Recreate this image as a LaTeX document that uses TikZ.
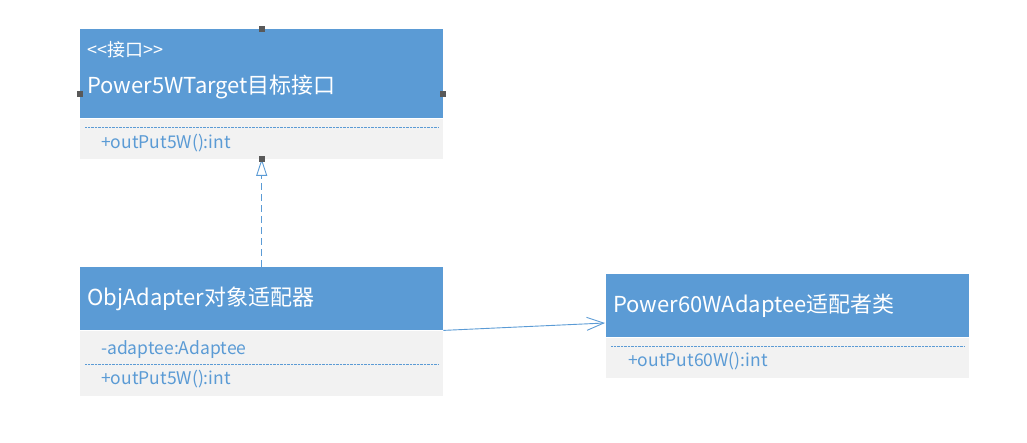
\documentclass[tikz,border=0pt]{standalone}
\usepackage{fontspec}
\setmainfont{Noto Sans CJK SC}[Ligatures=TeXOff]
\usetikzlibrary{arrows.meta,positioning,calc}
\definecolor{Head}{HTML}{5B9BD5}
\definecolor{Body}{HTML}{F2F2F2}
\definecolor{Grip}{HTML}{595959}

\begin{document}
\begin{tikzpicture}[x=1pt,y=-1pt,
  head/.style={fill=Head,minimum width=363pt,inner sep=0pt,anchor=north west},
  body/.style={fill=Body,minimum width=363pt,inner sep=0pt,anchor=north},
  title/.style={text=white,font=\fontsize{22}{26}\selectfont,inner sep=0pt,anchor=west},
  stereo/.style={text=white,font=\fontsize{18}{21}\selectfont,inner sep=0pt,anchor=west},
  member/.style={text=Head,font=\fontsize{17.5}{20}\selectfont,inner sep=0pt,anchor=west},
  sep/.style={Head,line width=0.6pt,dash pattern=on 0.8pt off 0.6pt},
  grip/.style={fill=Grip,minimum size=6pt,inner sep=0pt},
  realize/.style={Head,line width=0.9pt,dash pattern=on 7pt off 4pt,-{Triangle[open,length=17pt,width=11pt]}},
  assoc/.style={Head,line width=0.9pt,-{Straight Barb[length=17pt,width=13pt]}}]
  \useasboundingbox (0,0) rectangle (1027,443);

  \node[head,minimum height=89pt] (targethead) at (80,29) {};
  \node[body,minimum height=40pt] (targetbody) at (targethead.south) {};
  \node[stereo] (targetstereo) at (87,50) {<<接口>>};
  \node[title] (targetname) at (87,87) {Power5WTarget目标接口};
  \draw[sep] ([xshift=5pt,yshift=-9pt]targetbody.north west) -- ([xshift=-5pt,yshift=-9pt]targetbody.north east);
  \node[member] (targetop) at (101,143) {+outPut5W():int};

  \node[head,minimum height=63pt] (adapterhead) at (80,267) {};
  \node[body,minimum height=65pt] (adapterbody) at (adapterhead.south) {};
  \node[title] (adaptername) at (87,299) {ObjAdapter对象适配器};
  \node[member] (adapterattr) at (101,350) {-adaptee:Adaptee};
  \draw[sep] ([xshift=5pt,yshift=-34pt]adapterbody.north west) -- ([xshift=-5pt,yshift=-34pt]adapterbody.north east);
  \node[member] (adapterop) at (101,379) {+outPut5W():int};

  \node[head,minimum height=63pt] (adapteehead) at (606,274) {};
  \node[body,minimum height=40pt] (adapteebody) at (adapteehead.south) {};
  \node[title] (adapteename) at (613,306) {Power60WAdaptee适配者类};
  \draw[sep] ([xshift=5pt,yshift=-9pt]adapteebody.north west) -- ([xshift=-5pt,yshift=-9pt]adapteebody.north east);
  \node[member] (adapteeop) at (628,361) {+outPut60W():int};

  \draw[realize] (adapterhead.north) -- (targetbody.south);
  \coordinate (assocend) at (605,323);
  \draw[assoc] (adapterbody.north east) -- (assocend);

  \node[grip] (gripn) at (targethead.north) {};
  \node[grip] (grips) at (targetbody.south) {};
  \node[grip] (gripw) at ($(targethead.north west)!0.5!(targetbody.south west)$) {};
  \node[grip] (gripe) at ($(targethead.north east)!0.5!(targetbody.south east)$) {};
\end{tikzpicture}
\end{document}
